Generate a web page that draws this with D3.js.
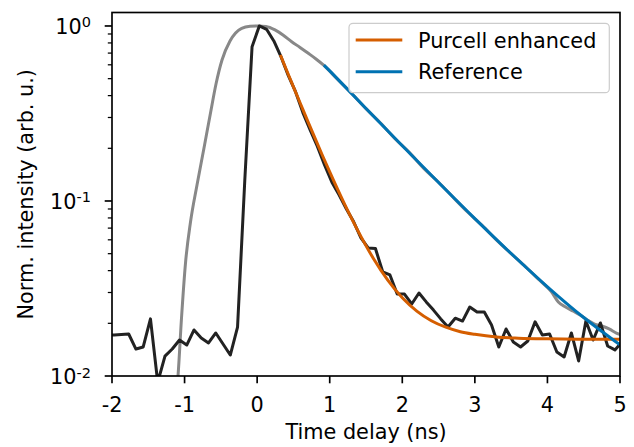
<!DOCTYPE html>
<html><head><meta charset="utf-8">
<script src="https://cdn.jsdelivr.net/npm/d3@7"></script>
<style>
html,body{margin:0;padding:0;background:#fff;}
svg{display:block;font-family:"DejaVu Sans",sans-serif;}
</style></head>
<body><svg id="chart" width="634" height="447"></svg>
<script>
// ---- data ----
const blackTime = [-2.07,-1.97,-1.87,-1.77,-1.67,-1.57,-1.47,-1.37,-1.27,-1.17,-1.07,-0.97,-0.87,-0.77,-0.67,-0.57,-0.47,-0.37,-0.27,-0.17,-0.07,
  0.03,0.13,0.23,0.33,0.43,0.53,0.63,0.73,0.83,0.93,1.03,1.13,1.23,1.33,1.43,1.53,1.63,1.73,1.83,1.93,2.03,2.13,2.23,2.33,2.43,2.53,2.63,2.73,2.83,2.93,
  3.03,3.13,3.23,3.33,3.43,3.53,3.63,3.73,3.83,3.93,4.03,4.13,4.23,4.33,4.43,4.53,4.63,4.73,4.83,4.93,5.03];
const blackValues = [0.01714,0.01714,0.01726,0.01738,0.01426,0.01465,0.0212,0.0092,0.0130,0.01426,0.01606,0.01503,0.01833,0.01649,0.01544,0.01761,0.01524,0.01318,0.01905,0.1318,0.762,
  1.0,0.957,0.821,0.665,0.52,0.42,0.32,0.255,0.205,0.16,0.128,0.108,0.09,0.076,0.0615,0.0539,0.0535,0.0394,0.0378,0.0294,0.0294,0.0258,0.0298,0.0265,0.0238,0.0212,0.01905,0.0214,0.0206,0.0248,
  0.0232,0.0232,0.01956,0.01465,0.01857,0.01565,0.01465,0.01585,0.0204,0.01714,0.01738,0.01372,0.01285,0.01761,0.01219,0.0206,0.01606,0.0201,0.01484,0.01409,0.01565];

const grayTime = [-1.15,-1.0905,-1.0423,-0.9872,-0.9183,-0.8287,-0.7323,-0.6427,-0.5669,-0.4842,-0.374,-0.213,-0.098,0.012,0.122,0.246,0.356,0.476,0.591,0.705,0.811,0.912,
  1.1,1.3,1.5,1.7,1.9,2.1,2.3,2.5,2.7,2.9,3.1,3.3,3.5,3.7,3.9,4.05,4.15,4.25,4.35,4.45,4.55,4.65,4.75,4.85,4.95,5.05];
const grayValues = [0.006,0.0100,0.02145,0.04422,0.07586,0.1234,0.2009,0.3184,0.4662,0.6393,0.821,0.970,0.996,1.0,0.993,0.949,0.888,0.813,0.754,0.698,0.648,0.599,
  0.500,0.413,0.337,0.279,0.227,0.189,0.153,0.128,0.105,0.0865,0.0725,0.0598,0.0500,0.0420,0.0350,0.0305,0.0265,0.0248,0.0235,0.0223,0.0209,0.0198,0.0193,0.0186,0.0176,0.0170];

const purcellTime = [0.32,0.4,0.5,0.6,0.7,0.8,0.9,1.0,1.2,1.4,1.6,1.8,2.0,2.2,2.4,2.6,2.8,3.0,3.3,3.6,4.0,4.5,5.0];
const purcellValues = [0.683,0.566,0.449,0.357,0.284,0.227,0.182,0.1466,0.0969,0.0662,0.0471,0.0353,0.0280,0.0235,0.0207,0.0190,0.0179,0.0173,0.0167,0.01645,0.0163,0.01623,0.0162];

const referenceTime = [0.92,1.0,1.2,1.5,2.0,2.5,3.0,3.5,4.0,4.5,5.0];
const referenceValues = [0.598,0.554,0.4545,0.338,0.207,0.1275,0.0793,0.0501,0.03234,0.02158,0.01506];

const xTicks = [-2,-1,0,1,2,3,4,5];
const xTickLabels = ["-2","-1","0","1","2","3","4","5"];
const yTicks = [0.01,0.1,1];
const yTickExponents = ["-2","-1","0"];
const legendLabels = ["Purcell enhanced","Reference"];
const xLabel = "Time delay (ns)";
const yLabel = "Norm. intensity (arb. u.)";

// ---- layout ----
const L=112, R=620, T=12.5, B=376;
const FS = 20.8;
const svg = d3.select("#chart");
const x = d3.scaleLinear().domain([-2,5]).range([L,R]);
const y = d3.scaleLog().domain([0.01,1.194]).range([B,T]);

svg.append("defs").append("clipPath").attr("id","clip")
  .append("rect").attr("x",L).attr("y",T).attr("width",R-L).attr("height",B-T);

const plot = svg.append("g").attr("clip-path","url(#clip)");
function drawLine(ts, vs, color, curve){
  const pts = ts.map((t,i)=>[t,vs[i]]);
  const gen = d3.line().x(d=>x(d[0])).y(d=>y(d[1])).curve(curve||d3.curveLinear);
  plot.append("path").attr("d",gen(pts)).attr("fill","none").attr("stroke",color)
    .attr("stroke-width",3).attr("stroke-linejoin","round").attr("stroke-linecap","butt");
}
drawLine(grayTime, grayValues, "#888888", d3.curveMonotoneX);
drawLine(blackTime, blackValues, "#222222");
drawLine(purcellTime, purcellValues, "#d55e00", d3.curveMonotoneX);
drawLine(referenceTime, referenceValues, "#0072b2", d3.curveMonotoneX);

// ---- axes ----
const ax = svg.append("g");
xTicks.forEach((t,i)=>{
  ax.append("line").attr("x1",x(t)).attr("x2",x(t)).attr("y1",B).attr("y2",B+7.3)
    .attr("stroke","#000").attr("stroke-width",1.67);
  ax.append("text").attr("x",x(t)).attr("y",411.5).attr("text-anchor","middle")
    .attr("font-size",FS).attr("fill","#000").text(xTickLabels[i]);
});
yTicks.forEach((v,i)=>{
  ax.append("line").attr("x1",L-7.3).attr("x2",L).attr("y1",y(v)).attr("y2",y(v))
    .attr("stroke","#000").attr("stroke-width",1.67);
  const tx = ax.append("text").attr("x",91).attr("y",y(v)+8).attr("text-anchor","end")
    .attr("font-size",FS).attr("fill","#000");
  tx.append("tspan").text("10");
  tx.append("tspan").attr("dy",-6.5).attr("font-size",14.5).text(yTickExponents[i]);
});
const minor = [];
[0.01,0.1].forEach(d=>{ for(let m=2;m<=9;m++) minor.push(d*m); });
minor.forEach(v=>{
  ax.append("line").attr("x1",L-4.2).attr("x2",L).attr("y1",y(v)).attr("y2",y(v))
    .attr("stroke","#000").attr("stroke-width",1.25);
});
ax.append("rect").attr("x",L).attr("y",T).attr("width",R-L).attr("height",B-T)
  .attr("fill","none").attr("stroke","#000").attr("stroke-width",1.67);

svg.append("text").attr("x",(L+R)/2).attr("y",439).attr("text-anchor","middle")
  .attr("font-size",FS).attr("fill","#000").text(xLabel);
svg.append("text").attr("transform",`translate(33,${(T+B)/2}) rotate(-90)`).attr("text-anchor","middle")
  .attr("font-size",FS).attr("fill","#000").text(yLabel);

const lg = svg.append("g");
lg.append("rect").attr("x",349).attr("y",23.3).attr("width",260.3).attr("height",69.4)
  .attr("rx",4).attr("fill","#fff").attr("fill-opacity",0.8).attr("stroke","#cccccc").attr("stroke-width",1.2);
const legendColors = ["#d55e00","#0072b2"];
legendLabels.forEach((lab,i)=>{
  const cy = 40 + i*31.7;
  lg.append("line").attr("x1",355.7).attr("x2",402.3).attr("y1",cy).attr("y2",cy)
    .attr("stroke",legendColors[i]).attr("stroke-width",3);
  lg.append("text").attr("x",418).attr("y",cy+7.5).attr("font-size",FS).attr("fill","#000").text(lab);
});
</script></body></html>
